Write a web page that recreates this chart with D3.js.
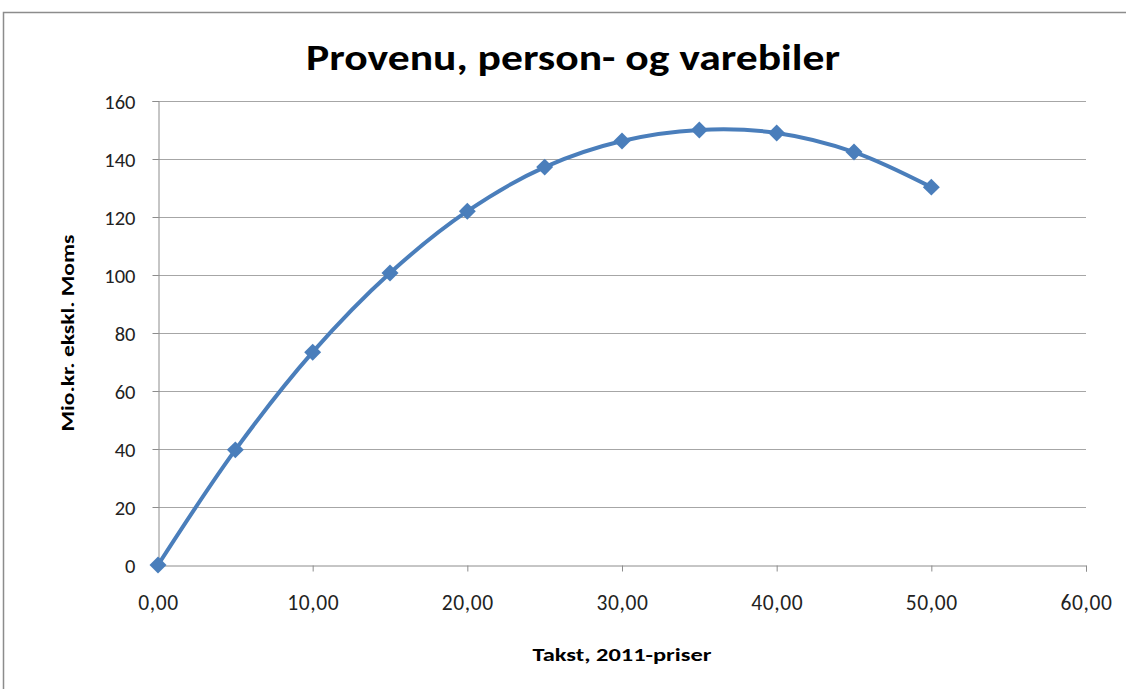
<!DOCTYPE html>
<html><head><meta charset="utf-8">
<script src="https://cdn.jsdelivr.net/npm/d3@7"></script>
<style>html,body{margin:0;padding:0;background:#fff;}svg{display:block;}</style>
</head><body>
<svg id="c" width="1126" height="689"></svg>
<script>
const takst = [0, 5, 10, 15, 20, 25, 30, 35, 40, 45, 50];
const provenu = [0, 39.7, 73.4, 100.7, 122, 137.2, 146.2, 150, 149, 142.4, 130.3];
const xTicks = [0, 10, 20, 30, 40, 50, 60];
const yTicks = [0, 20, 40, 60, 80, 100, 120, 140, 160];
const title = "Provenu, person- og varebiler";
const xTitle = "Takst, 2011-priser";
const yTitle = "Mio.kr. ekskl. Moms";

const svg = d3.select("#c");
const font = "Calibri, Carlito, 'Open Sans', 'Liberation Sans', sans-serif";
// chart border
svg.append("rect").attr("x", 3.5).attr("y", 12.5).attr("width", 1200).attr("height", 800)
  .attr("fill", "#fff").attr("stroke", "#8c8c8c").attr("stroke-width", 1.5);

const x = d3.scaleLinear().domain([0, 60]).range([158, 1086]);
const y = d3.scaleLinear().domain([0, 160]).range([565, 101]);

// gridlines
svg.append("g").selectAll("line").data(yTicks.filter(d => d > 0)).join("line")
  .attr("x1", x(0)).attr("x2", x(60)).attr("y1", d => y(d) + 0.5).attr("y2", d => y(d) + 0.5)
  .attr("stroke", "#a6a6a6").attr("stroke-width", 1);

const xAxis = svg.append("g").attr("transform", `translate(0,${y(0) + 0.5})`)
  .call(d3.axisBottom(x).tickValues(xTicks).tickSize(6).tickPadding(38)
    .tickFormat(d => d3.format(".2f")(d).replace(".", ",")));
const yAxis = svg.append("g").attr("transform", `translate(${x(0) + 0.5},0)`)
  .call(d3.axisLeft(y).tickValues(yTicks).tickSize(6).tickPadding(17));
[xAxis, yAxis].forEach(g => {
  g.select(".domain").attr("stroke", "#8c8c8c");
  g.selectAll(".tick line").attr("stroke", "#8c8c8c");
  g.selectAll("text").attr("font-family", font).attr("font-size", 20.5).attr("fill", "#222");
});
xAxis.selectAll("text").attr("dy", "0").attr("font-size", 21.5).attr("letter-spacing", 0.6);
yAxis.selectAll("text").attr("dy", "0.36em");

// line
const line = d3.line().x((d, i) => x(takst[i])).y(d => y(d)).curve(d3.curveCatmullRom.alpha(0.5));
svg.append("path").datum(provenu).attr("d", line).attr("fill", "none")
  .attr("stroke", "#4a7ebb").attr("stroke-width", 4);
svg.append("g").selectAll("path").data(provenu).join("path")
  .attr("d", d3.symbol(d3.symbolSquare, 144)())
  .attr("transform", (d, i) => `translate(${x(takst[i])},${y(d)}) rotate(45)`)
  .attr("fill", "#4a7ebb");

// titles
svg.append("text").attr("x", 573).attr("y", 70).attr("text-anchor", "middle")
  .attr("font-family", font).attr("font-weight", "bold").attr("font-size", 37)
  .attr("textLength", 534).attr("lengthAdjust", "spacingAndGlyphs").text(title);
svg.append("text").attr("x", 622).attr("y", 661).attr("text-anchor", "middle")
  .attr("font-family", font).attr("font-weight", "bold").attr("font-size", 18)
  .attr("textLength", 179).attr("lengthAdjust", "spacingAndGlyphs").text(xTitle);
svg.append("text").attr("transform", "translate(74,333) rotate(-90)").attr("text-anchor", "middle")
  .attr("font-family", font).attr("font-weight", "bold").attr("font-size", 18)
  .attr("textLength", 197).attr("lengthAdjust", "spacingAndGlyphs").text(yTitle);
</script>
</body></html>
